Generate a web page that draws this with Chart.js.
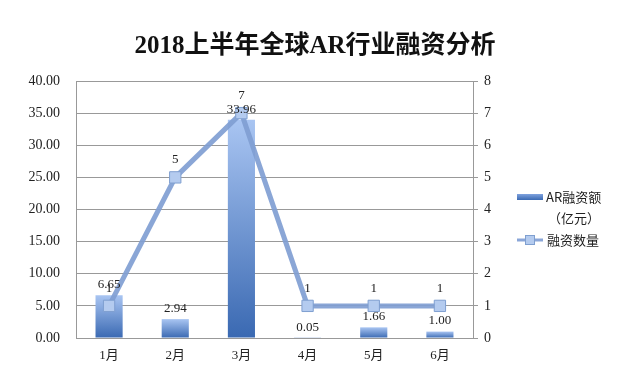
<!DOCTYPE html>
<html>
<head>
<meta charset="utf-8">
<script src="https://cdn.jsdelivr.net/npm/chart.js@4/dist/chart.umd.min.js"></script>
<style>
html,body{margin:0;padding:0;background:#fff;}
#wrap{position:relative;width:621px;height:381px;}
canvas{display:block;}
</style>
</head>
<body>
<div id="wrap"><canvas id="c" width="621" height="381"></canvas></div>
<script>
const titleText = '2018上半年全球AR行业融资分析';
const categories = ['1月','2月','3月','4月','5月','6月'];
const amountLabel = ['AR融资额', '（亿元）'];
const amounts = [6.65, 2.94, 33.96, 0.05, 1.66, 1.00];
const countLabel = '融资数量';
const counts = [1, 5, 7, 1, 1, 1];
const leftTicks = [0, 5, 10, 15, 20, 25, 30, 35, 40];
const rightTicks = [0, 1, 2, 3, 4, 5, 6, 7, 8];

const SERIF = '"Liberation Serif", "Times New Roman", "Noto Sans CJK SC", serif';
const CJK = '"Noto Sans CJK SC", "Liberation Serif", sans-serif';

function barGradient(ctx) {
  const chart = ctx.chart;
  const ys = chart.scales && chart.scales.y;
  if (!chart.chartArea || !ys || ctx.type !== 'data') return '#5a86cc';
  const top = ys.getPixelForValue(ctx.raw);
  const bottom = ys.getPixelForValue(0);
  if (!isFinite(top) || !isFinite(bottom) || Math.abs(bottom - top) < 1) return '#4a78c0';
  const g = chart.ctx.createLinearGradient(0, top, 0, bottom);
  g.addColorStop(0, '#a9c5f2');
  g.addColorStop(1, '#3a69b2');
  return g;
}

const plugins = [{
  id: 'extras',
  afterDatasetsDraw(chart) {
    const ctx = chart.ctx;
    ctx.save();
    ctx.fillStyle = '#222';
    ctx.font = '13px ' + SERIF;
    ctx.textAlign = 'center';
    ctx.textBaseline = 'bottom';
    const barMeta = chart.getDatasetMeta(0);
    barMeta.data.forEach((el, i) => {
      ctx.fillText(amounts[i].toFixed(2), el.x, el.y - 4);
    });
    const lineMeta = chart.getDatasetMeta(1);
    lineMeta.data.forEach((el, i) => {
      ctx.fillText(String(counts[i]), el.x, el.y - 11);
    });
    ctx.restore();
  },
  afterDraw(chart) {
    const ctx = chart.ctx;
    ctx.save();
    // title
    ctx.fillStyle = '#111';
    ctx.font = 'bold 25px ' + SERIF;
    ctx.textAlign = 'center';
    ctx.textBaseline = 'middle';
    ctx.fillText(titleText, 315, 47);
    // legend
    const lx = 517, lw = 26;
    const g = ctx.createLinearGradient(0, 194, 0, 200);
    g.addColorStop(0, '#7fa2de');
    g.addColorStop(1, '#3a69b2');
    ctx.fillStyle = g;
    ctx.fillRect(lx, 194, lw, 6);
    ctx.fillStyle = '#222';
    ctx.font = '13px ' + CJK;
    ctx.textAlign = 'left';
    ctx.fillText(amountLabel[0], 546, 197);
    ctx.textAlign = 'center';
    ctx.fillText(amountLabel[1], 574, 218);
    ctx.strokeStyle = '#8aa6d8';
    ctx.lineWidth = 3;
    ctx.beginPath();
    ctx.moveTo(lx, 240);
    ctx.lineTo(lx + lw, 240);
    ctx.stroke();
    ctx.fillStyle = '#b4cbef';
    ctx.strokeStyle = '#7f9fd0';
    ctx.lineWidth = 1;
    ctx.fillRect(lx + 8, 235, 10, 10);
    ctx.strokeRect(lx + 8.5, 235.5, 9, 9);
    ctx.fillStyle = '#222';
    ctx.textAlign = 'left';
    ctx.fillText(countLabel, 547, 240);
    ctx.restore();
  }
}];

new Chart(document.getElementById('c'), {
  data: {
    labels: categories,
    datasets: [
      {
        type: 'bar',
        label: amountLabel.join(''),
        data: amounts,
        yAxisID: 'y',
        backgroundColor: barGradient,
        borderWidth: 0,
        categoryPercentage: 1.0,
        barPercentage: 0.41,
        order: 2
      },
      {
        type: 'line',
        label: countLabel,
        data: counts,
        yAxisID: 'y1',
        borderColor: 'rgba(128,158,210,0.92)',
        borderWidth: 5,
        pointStyle: 'rect',
        pointRadius: 8,
        pointBackgroundColor: '#b4cbef',
        pointBorderColor: '#7f9fd0',
        pointBorderWidth: 1,
        tension: 0,
        order: 1
      }
    ]
  },
  options: {
    responsive: false,
    animation: false,
    events: [],
    layout: { padding: { left: 0, right: 108, top: 81, bottom: 13 } },
    plugins: {
      legend: { display: false },
      title: { display: false },
      tooltip: { enabled: false }
    },
    scales: {
      x: {
        grid: { display: false, drawTicks: false },
        border: { display: true, color: '#999999' },
        ticks: { color: '#222', font: { size: 13, family: SERIF }, padding: 10, maxRotation: 0 },
        afterFit(s) { s.height = 30; }
      },
      y: {
        position: 'left',
        min: 0, max: 40,
        afterBuildTicks(s) { s.ticks = leftTicks.map(v => ({ value: v })); },
        grid: { color: '#999999', drawTicks: false },
        border: { display: true, color: '#999999' },
        ticks: {
          color: '#222', font: { size: 14, family: SERIF }, padding: 16,
          callback: v => Number(v).toFixed(2)
        },
        afterFit(s) { s.width = 76; }
      },
      y1: {
        position: 'right',
        min: 0, max: 8,
        afterBuildTicks(s) { s.ticks = rightTicks.map(v => ({ value: v })); },
        grid: { drawOnChartArea: false, color: '#999999', tickLength: 5 },
        border: { display: true, color: '#999999' },
        ticks: { color: '#222', font: { size: 14, family: SERIF }, padding: 6 },
        afterFit(s) { s.width = 40; }
      }
    }
  },
  plugins: plugins
});
</script>
</body>
</html>
